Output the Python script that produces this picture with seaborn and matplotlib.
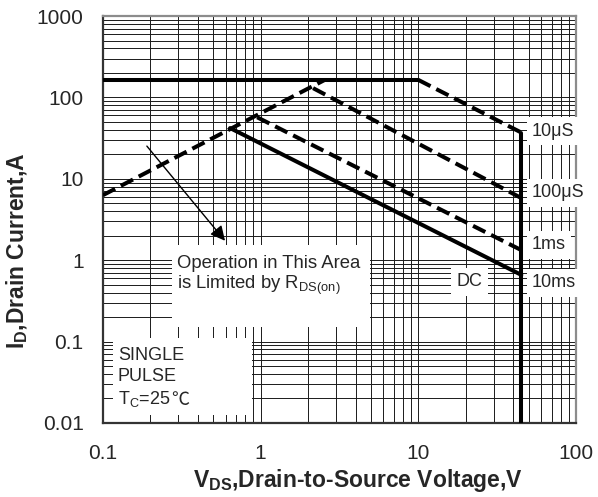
import numpy as np
import pandas as pd
import seaborn as sns
import matplotlib.pyplot as plt
from matplotlib.patches import Rectangle
from matplotlib.ticker import LogLocator, NullFormatter, FixedLocator

# SOA curve segments (V, A)
rds_v = [0.1, 2.55]
rds_i = [6.3, 164]
limit_v = [0.1, 10]
limit_i = [164, 164]
t10us_v = [10, 45]
t10us_i = [164, 37]
vmax_v = [45, 45]
vmax_i = [37, 0.01]
t100us_v = [2.15, 45]
t100us_i = [130, 5.8]
t1ms_v = [0.95, 45]
t1ms_i = [57, 1.33]
dc_v = [0.64, 45]
dc_i = [42, 0.66]

x_ticks = [0.1, 1, 10, 100]
x_labels = ['0.1', '1', '10', '100']
y_ticks = [0.01, 0.1, 1, 10, 100, 1000]
y_labels = ['0.01', '0.1', '1', '10', '100', '1000']

pulse_labels = ['10μS', '100μS', '1ms', '10ms']
pulse_label_y = [38.6, 6.7, 1.54, 0.525]

segs = [
    ('rds', 'dashed', rds_v, rds_i),
    ('limit', 'solid', limit_v, limit_i),
    ('10us', 'dashed', t10us_v, t10us_i),
    ('vmax', 'solid', vmax_v, vmax_i),
    ('100us', 'dashed', t100us_v, t100us_i),
    ('1ms', 'dashed', t1ms_v, t1ms_i),
    ('dc', 'solid', dc_v, dc_i),
]
rows = []
for name, kind, vs, cs in segs:
    for v, c in zip(vs, cs):
        rows.append({'seg': name, 'kind': kind, 'V': v, 'I': c})
df = pd.DataFrame(rows)

sns.set_style('white')
plt.rcParams['font.family'] = ['Liberation Sans', 'DejaVu Sans', 'Noto Sans CJK SC']
plt.rcParams['mathtext.default'] = 'regular'

fig = plt.figure(figsize=(5.98, 4.97), dpi=100)
ax = fig.add_axes([0.1722, 0.1489, 0.791, 0.8189])
ax.set_xscale('log')
ax.set_yscale('log')
ax.set_xlim(0.1, 100)
ax.set_ylim(0.01, 1000)

sns.lineplot(data=df, x='V', y='I', units='seg', estimator=None, sort=False,
             style='kind', dashes={'solid': '', 'dashed': (3.4, 1.6)},
             color='black', lw=2.9, legend=False, ax=ax, zorder=4)
ax.set(xlabel='', ylabel='')

# grid
for axis in (ax.xaxis, ax.yaxis):
    axis.set_minor_locator(LogLocator(base=10, subs=np.arange(2, 10), numticks=100))
    axis.set_minor_formatter(NullFormatter())
ax.xaxis.set_major_locator(FixedLocator(x_ticks))
ax.yaxis.set_major_locator(FixedLocator(y_ticks))
ax.set_xticklabels(x_labels)
ax.set_yticklabels(y_labels)
ax.grid(which='both', color='0.1', lw=0.7)
ax.tick_params(which='both', length=0, labelsize=15)
ax.tick_params(axis='x', pad=15)
ax.tick_params(axis='y', pad=14)
for s in ['left', 'bottom']:
    ax.spines[s].set_color('0.2')
    ax.spines[s].set_linewidth(1.6)
for s in ['top', 'right']:
    ax.spines[s].set_color('0.55')
    ax.spines[s].set_linewidth(1.6)

# white note boxes
ax.add_patch(Rectangle((0.1459, 0.2359), 0.4186, 0.2015, transform=ax.transAxes,
                       facecolor='white', edgecolor='none', zorder=3))
ax.add_patch(Rectangle((0.0211, 0.0197), 0.294, 0.189, transform=ax.transAxes,
                       facecolor='white', edgecolor='none', zorder=3))

ax.text(0.1564, 0.414, 'Operation in This Area\nis Limited by R$_{DS(on)}$',
        transform=ax.transAxes, ha='left', va='top', fontsize=13.3, zorder=5,
        linespacing=1.15)

ax.text(0.0317, 0.1536, 'SINGLE', transform=ax.transAxes,
        ha='left', va='baseline', fontsize=13, zorder=5)
ax.text(0.0317, 0.1020, 'PULSE', transform=ax.transAxes,
        ha='left', va='baseline', fontsize=13, zorder=5)
tc = ax.text(0.0317, 0.0455, 'T$_C$=25', transform=ax.transAxes,
             ha='left', va='baseline', fontsize=13, zorder=5)
ax.annotate('℃', xy=(1, 0), xycoords=tc, xytext=(0.5, 0), textcoords='offset points',
            ha='left', va='bottom', fontsize=13, family='Noto Sans CJK SC',
            zorder=5)

ax.annotate('', xy=(0.61, 1.63), xytext=(0.185, 26.8),
            arrowprops=dict(arrowstyle='-|>', color='black', lw=1,
                            mutation_scale=22), zorder=5)

tr = ax.get_yaxis_transform()
for lab, yv in zip(pulse_labels, pulse_label_y):
    ax.text(0.907, yv, lab, transform=tr, ha='left', va='center', fontsize=13,
            zorder=6, clip_on=False,
            bbox=dict(boxstyle='square,pad=0.3', facecolor='white', edgecolor='none'))
ax.text(0.748, 0.54, 'DC', transform=tr, ha='left', va='center', fontsize=13,
        zorder=6, bbox=dict(boxstyle='square,pad=0.3', facecolor='white', edgecolor='none'))

fig.text(358 / 598, 1 - 480 / 497, 'V$_{DS}$,Drain-to-Source Voltage,V',
         ha='center', va='center', fontsize=16.5, fontweight='bold')
fig.text(17 / 598, 1 - 251 / 497, 'I$_D$,Drain Current,A', rotation=90,
         ha='center', va='center', fontsize=16.5, fontweight='bold')

fig.savefig('out.png', dpi=100)
